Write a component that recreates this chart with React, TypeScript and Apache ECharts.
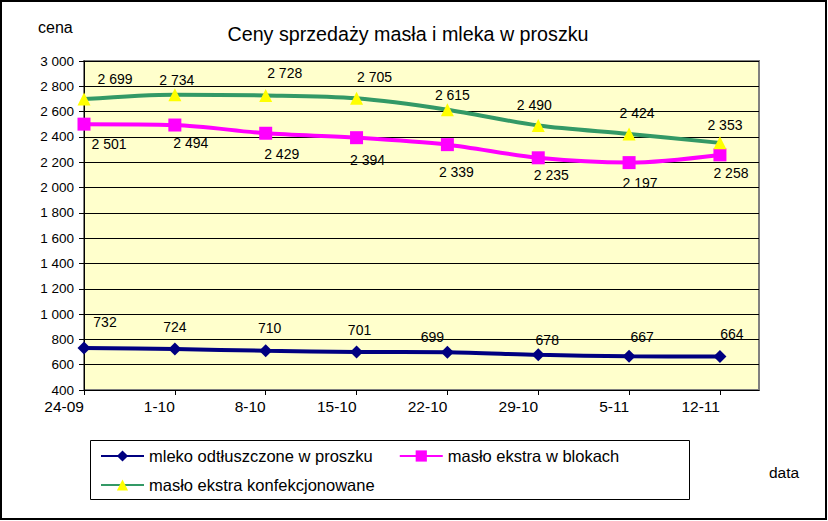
import React, { useEffect, useRef } from "react";
import * as echarts from "echarts";

const categories = ["24-09", "1-10", "8-10", "15-10", "22-10", "29-10", "5-11", "12-11"];
const mleko = [732, 724, 710, 701, 699, 678, 667, 664];
const masloBloki = [2501, 2494, 2429, 2394, 2339, 2235, 2197, 2258];
const masloKonf = [2699, 2734, 2728, 2705, 2615, 2490, 2424, 2353];
const seriesNames = [
  "mleko odtłuszczone w proszku",
  "masło ekstra w blokach",
  "masło ekstra konfekcjonowane",
];
const yTicks = { min: 400, max: 3000, interval: 200 };

// label placement tweaks (layout only)
const mlekoLabelShift = [[21, -26], [0, -22], [4, -23], [3, -22], [-15, -15], [9, -15], [13, -19], [12, -23]];
const blokiLabelShift = [[25, 20], [16, 18], [16, 21], [11, 22], [9, 27], [13, 17], [11, 20], [11, 18]];
const konfLabelShift = [[31, -20], [2, -15], [19, -22], [18, -21], [5, -15], [-4, -21], [8, -21], [5, -18]];

const FONT = 'Arial, "Liberation Sans", sans-serif';
const fmt = (v: number) => String(v).replace(/\B(?=(\d{3})+(?!\d))/g, " ");

function buildData(values: number[], shifts: number[][]) {
  return values.map((v, i) => ({
    value: [i, v],
    label: { offset: shifts[i] },
  }));
}

export default function App() {
  const ref = useRef<HTMLDivElement>(null);
  useEffect(() => {
    if (!ref.current) return;
    const chart = echarts.init(ref.current, undefined, { renderer: "svg" });
    const idx = categories.map((_, i) => i);
    const labelCommon = {
      show: true,
      position: "inside",
      color: "#000",
      fontSize: 14,
      fontFamily: FONT,
      formatter: (p: any) => fmt(p.value[1]),
    };
    const legendCommon = {
      orient: "horizontal",
      itemWidth: 43,
      itemHeight: 14,
      itemGap: 26,
      padding: 0,
      textStyle: { fontSize: 16.5, color: "#000", fontFamily: FONT, lineHeight: 18 },
    };
    chart.setOption({
      animation: false,
      backgroundColor: "#fff",
      textStyle: { fontFamily: FONT },
      title: {
        text: "Ceny sprzedaży masła i mleka w proszku",
        left: 403,
        textAlign: "center",
        top: 19,
        textStyle: { fontSize: 19.7, fontWeight: "normal", color: "#000", fontFamily: FONT },
      },
      graphic: [
        {
          type: "rect",
          shape: { x: 1, y: 1, width: 825, height: 518 },
          style: { fill: "none", stroke: "#000", lineWidth: 2 },
          silent: true,
        },
        {
          type: "rect",
          shape: { x: 90.5, y: 440.5, width: 599, height: 59 },
          style: { fill: "none", stroke: "#000", lineWidth: 1 },
          silent: true,
        },
        {
          type: "text",
          left: 38,
          top: 19,
          style: { text: "cena", fontSize: 16, fill: "#000", fontFamily: FONT },
        },
        {
          type: "text",
          left: 769,
          top: 464,
          style: { text: "data", fontSize: 15.5, fill: "#000", fontFamily: FONT },
        },
      ],
      grid: {
        left: 84,
        right: 69,
        top: 61,
        bottom: 131,
        show: true,
        backgroundColor: "#FFFFCC",
        borderColor: "#808080",
        borderWidth: 2,
      },
      legend: [
        { ...legendCommon, left: 100, top: 447, data: [seriesNames[0], seriesNames[1]] },
        { ...legendCommon, left: 100, top: 476, data: [seriesNames[2]] },
      ],
      xAxis: {
        type: "value",
        min: 0,
        max: 7.43,
        interval: 1,
        splitLine: { show: false },
        axisLine: { show: true, onZero: false, lineStyle: { color: "#000", width: 1 } },
        axisTick: { show: true, length: 5, lineStyle: { color: "#000" }, customValues: idx },
        axisLabel: {
          customValues: idx,
          fontSize: 15.5,
          lineHeight: 14,
          color: "#000",
          margin: 9,
          align: "right",
          fontFamily: FONT,
          formatter: (v: number) => (Number.isInteger(v) ? categories[v] ?? "" : ""),
        },
      },
      yAxis: {
        type: "value",
        min: yTicks.min,
        max: yTicks.max,
        interval: yTicks.interval,
        axisLine: { show: true, lineStyle: { color: "#000", width: 1 } },
        axisTick: { show: true, length: 5, lineStyle: { color: "#000" } },
        splitLine: { show: true, lineStyle: { color: "#000", width: 1 } },
        axisLabel: {
          fontSize: 13.5,
          lineHeight: 13,
          color: "#000",
          margin: 10,
          fontFamily: FONT,
          formatter: (v: number) => fmt(v),
        },
      },
      series: [
        {
          name: seriesNames[0],
          type: "line",
          smooth: 0.3,
          data: buildData(mleko, mlekoLabelShift),
          symbol: "diamond",
          symbolSize: 13,
          itemStyle: { color: "#000080" },
          lineStyle: { color: "#000080", width: 4 },
          label: labelCommon,
        },
        {
          name: seriesNames[1],
          type: "line",
          smooth: 0.3,
          data: buildData(masloBloki, blokiLabelShift),
          symbol: "rect",
          symbolSize: 13,
          itemStyle: { color: "#FF00FF" },
          lineStyle: { color: "#FF00FF", width: 4 },
          label: labelCommon,
        },
        {
          name: seriesNames[2],
          type: "line",
          smooth: 0.3,
          data: buildData(masloKonf, konfLabelShift),
          symbol: "triangle",
          symbolSize: 13,
          itemStyle: { color: "#FFFF00" },
          lineStyle: { color: "#339966", width: 4 },
          label: labelCommon,
        },
      ],
    });
    return () => chart.dispose();
  }, []);
  return (
    <div
      ref={ref}
      style={{ position: "fixed", left: 0, top: 0, width: 828, height: 521 }}
    />
  );
}
